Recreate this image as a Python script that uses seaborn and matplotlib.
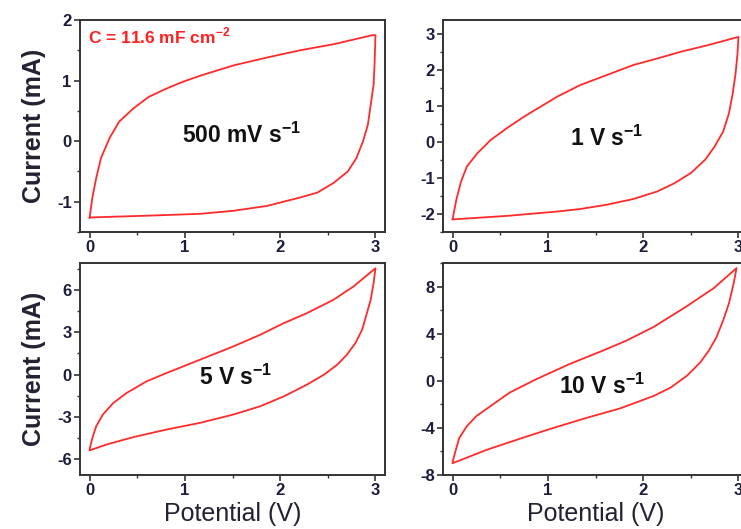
import matplotlib
matplotlib.use("Agg")
import matplotlib.pyplot as plt
import pandas as pd
import seaborn as sns
from matplotlib.ticker import MultipleLocator

# CV loops: forward (charging) branch then reverse branch
v_500_fwd = [0.0, 0.03, 0.07, 0.12, 0.21, 0.31, 0.46, 0.62, 0.81, 0.98, 1.16, 1.51, 1.86, 2.21, 2.56, 2.97]
i_500_fwd = [-1.27, -0.93, -0.61, -0.28, 0.05, 0.32, 0.54, 0.73, 0.87, 0.98, 1.08, 1.25, 1.38, 1.5, 1.6, 1.75]
v_500_rev = [3.0, 2.99, 2.98, 2.95, 2.92, 2.87, 2.8, 2.71, 2.56, 2.39, 2.21, 1.86, 1.51, 1.16, 0.62, 0.0]
i_500_rev = [1.75, 1.25, 0.93, 0.6, 0.27, 0.0, -0.28, -0.5, -0.69, -0.85, -0.93, -1.07, -1.15, -1.2, -1.23, -1.26]

v_1_fwd = [0.0, 0.04, 0.09, 0.15, 0.26, 0.4, 0.57, 0.75, 1.1, 1.34, 1.62, 1.9, 2.15, 2.4, 2.68, 3.0]
i_1_fwd = [-2.15, -1.6, -1.09, -0.68, -0.31, 0.06, 0.39, 0.71, 1.27, 1.59, 1.87, 2.15, 2.33, 2.52, 2.7, 2.93]
v_1_rev = [3.0, 2.99, 2.97, 2.94, 2.9, 2.84, 2.75, 2.65, 2.5, 2.33, 2.15, 1.9, 1.62, 1.34, 1.1, 0.58, 0.0]
i_1_rev = [2.93, 2.47, 1.92, 1.36, 0.8, 0.3, -0.12, -0.49, -0.86, -1.14, -1.37, -1.58, -1.74, -1.86, -1.93, -2.05, -2.15]

v_5_fwd = [0.0, 0.03, 0.07, 0.14, 0.25, 0.39, 0.6, 0.81, 1.16, 1.51, 1.79, 2.04, 2.28, 2.56, 2.77, 3.0]
i_5_fwd = [-5.3, -4.47, -3.65, -2.82, -2.0, -1.29, -0.47, 0.12, 1.06, 2.0, 2.82, 3.65, 4.35, 5.3, 6.24, 7.53]
v_5_rev = [3.0, 2.98, 2.95, 2.91, 2.86, 2.79, 2.7, 2.6, 2.46, 2.28, 2.04, 1.79, 1.51, 1.16, 0.81, 0.46, 0.18, 0.0]
i_5_rev = [7.53, 6.47, 5.3, 4.35, 3.18, 2.24, 1.41, 0.71, 0.0, -0.71, -1.53, -2.24, -2.82, -3.41, -3.88, -4.42, -4.94, -5.36]

v_10_fwd = [0.0, 0.03, 0.07, 0.15, 0.25, 0.4, 0.6, 0.88, 1.23, 1.58, 1.83, 2.11, 2.45, 2.74, 2.98]
i_10_fwd = [-6.91, -6.0, -4.86, -3.86, -3.0, -2.14, -1.0, 0.14, 1.43, 2.57, 3.43, 4.57, 6.29, 7.86, 9.57]
v_10_rev = [2.98, 2.95, 2.9, 2.84, 2.77, 2.69, 2.6, 2.46, 2.29, 2.11, 1.76, 1.41, 1.06, 0.71, 0.36, 0.0]
i_10_rev = [9.57, 8.29, 6.57, 5.14, 3.71, 2.57, 1.57, 0.43, -0.57, -1.29, -2.34, -3.14, -4.0, -4.91, -5.86, -7.0]

scan_labels = [r"500 mV s$^{\mathbf{-1}}$", r"1 V s$^{\mathbf{-1}}$",
               r"5 V s$^{\mathbf{-1}}$", r"10 V s$^{\mathbf{-1}}$"]
label_pos = [(1.6, 0.1), (1.62, 0.12), (1.53, -0.2), (1.57, -0.45)]
y_limits = [(-1.5, 2.0), (-2.5, 3.4), (-7.1, 7.9), (-8, 10)]
y_major = [1, 1, 3, 4]
cap_text = r"C = 11.6 mF cm$^{\mathbf{-2}}$"

loops = [
    (v_500_fwd + v_500_rev, i_500_fwd + i_500_rev),
    (v_1_fwd + v_1_rev, i_1_fwd + i_1_rev),
    (v_5_fwd + v_5_rev, i_5_fwd + i_5_rev),
    (v_10_fwd + v_10_rev, i_10_fwd + i_10_rev),
]

sns.set_style("ticks")
plt.rcParams["font.family"] = ["Liberation Sans", "DejaVu Sans"]
plt.rcParams["mathtext.fontset"] = "custom"
plt.rcParams["mathtext.rm"] = "Liberation Sans"
plt.rcParams["mathtext.bf"] = "Liberation Sans:bold"
plt.rcParams["axes.unicode_minus"] = False

fig = plt.figure(figsize=(7.41, 5.29), dpi=100)
W, H = 741, 529
boxes = [(80, 20, 305, 212), (443, 20, 305, 212), (80, 263, 305, 212), (443, 263, 305, 212)]

tick_color = "#1c1c3c"
for k, (x0, y0, w, h) in enumerate(boxes):
    ax = fig.add_axes([x0 / W, 1 - (y0 + h) / H, w / W, h / H])
    v, cur = loops[k]
    df = pd.DataFrame({"Potential": v, "Current": cur})
    sns.lineplot(data=df, x="Potential", y="Current", sort=False, estimator=None,
                 color="#ff2a2a", linewidth=1.3, ax=ax)
    ax.set_xlim(-0.1, 3.1)
    ax.set_ylim(*y_limits[k])
    ax.xaxis.set_major_locator(MultipleLocator(1))
    ax.xaxis.set_minor_locator(MultipleLocator(0.5))
    ax.yaxis.set_major_locator(MultipleLocator(y_major[k]))
    ax.yaxis.set_minor_locator(MultipleLocator(y_major[k] / 2))
    ax.tick_params(which="major", direction="out", length=4, width=1.2, colors="#333333",
                   labelcolor=tick_color, labelsize=12, pad=2)
    ax.tick_params(which="minor", direction="out", length=2.5, width=1.0, colors="#333333")
    for lbl in ax.get_xticklabels() + ax.get_yticklabels():
        lbl.set_fontweight("bold")
    for sp in ax.spines.values():
        sp.set_visible(True)
        sp.set_linewidth(1.4)
        sp.set_color("#333333")
    ax.set_xlabel("")
    ax.set_ylabel("")
    if k in (0, 2):
        ax.set_ylabel("Current (mA)", fontsize=18, fontweight="bold", labelpad=8,
                      color="#222233")
    if k in (2, 3):
        ax.set_xlabel("Potential (V)", fontsize=18, labelpad=3, color="#222233")
    ax.text(label_pos[k][0], label_pos[k][1], scan_labels[k], fontsize=16.5,
            fontweight="bold", ha="center", va="center", color="#111111")
    if k == 0:
        ax.text(-0.02, 1.73, cap_text, fontsize=12.5, fontweight="bold", color="#ff2020",
                ha="left", va="center")

fig.savefig("out.png", dpi=100)
